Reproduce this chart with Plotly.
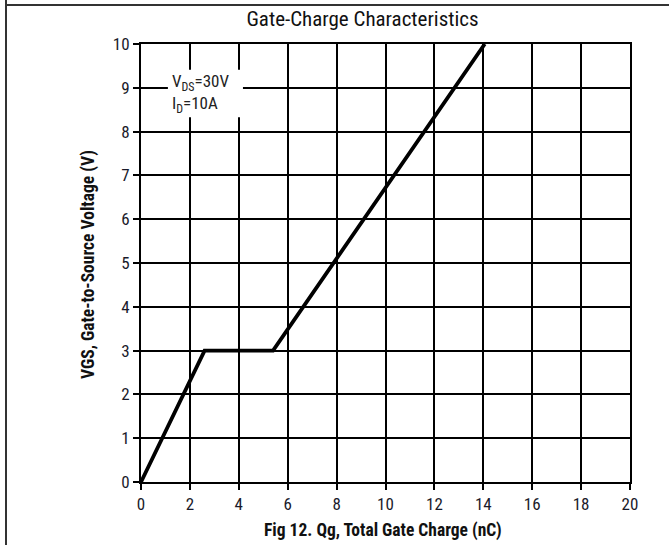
import plotly.graph_objects as go

qg = [0, 2.6, 5.4, 14.06]
vgs = [0, 3, 3, 10]
x_ticks = [0, 2, 4, 6, 8, 10, 12, 14, 16, 18, 20]
y_ticks = [0, 1, 2, 3, 4, 5, 6, 7, 8, 9, 10]

FONT = "Liberation Sans Narrow, Arial Narrow, Roboto Condensed, Liberation Sans, Arial"

fig = go.Figure()
fig.add_trace(go.Scatter(x=qg, y=vgs, mode="lines",
                         line=dict(color="black", width=3.8), showlegend=False))

axis_common = dict(showgrid=True, gridcolor="black", gridwidth=1.5,
                   showline=True, linecolor="black", linewidth=2, mirror=True,
                   ticks="outside", ticklen=6, tickcolor="black", tickwidth=1.5,
                   zeroline=False, automargin=False,
                   tickfont=dict(family=FONT, size=17, color="#1a1a2a"))

PW, PH = 489, 438  # plot area size in px

fig.update_layout(
    width=669, height=545,
    margin=dict(l=141, r=39, t=44, b=63),
    paper_bgcolor="white", plot_bgcolor="white",
    title=dict(text="Gate-Charge Characteristics", x=362.5 / 669,
               xanchor="center", y=1 - 19 / 545, yanchor="middle",
               font=dict(family=FONT, size=21, color="#111")),
    xaxis=dict(range=[0, 20], tickvals=x_ticks, **axis_common),
    yaxis=dict(range=[0, 10], tickvals=y_ticks, **axis_common),
)

# axis titles
fig.add_annotation(xref="paper", yref="paper", x=(383 - 141) / PW, y=(482 - 530) / PH,
                   xanchor="center", yanchor="middle", showarrow=False,
                   text="<b>Fig 12. Qg, Total Gate Charge (nC)</b>",
                   font=dict(family=FONT, size=17.5, color="#111"))
fig.add_annotation(xref="paper", yref="paper", x=(88 - 141) / PW, y=(482 - 265) / PH,
                   xanchor="center", yanchor="middle", showarrow=False, textangle=-90,
                   text="<b>VGS, Gate-to-Source Voltage (V)</b>",
                   font=dict(family=FONT, size=17.5, color="#111"))

# white box behind the condition text
fig.add_shape(type="rect", xref="x", yref="y", x0=1.10, x1=4.17, y0=8.33, y1=9.41,
              fillcolor="white", line=dict(width=0), layer="above")
fig.add_annotation(xref="x", yref="y", x=1.17, y=8.87, xanchor="left", yanchor="middle",
                   align="left", showarrow=False,
                   text="V<sub>DS</sub>=30V<br>I<sub>D</sub>=10A",
                   font=dict(family=FONT, size=17, color="#222"))

# outer frame lines (top and left)
fig.add_shape(type="line", xref="paper", yref="paper",
              x0=(6 - 141) / PW, x1=(669 - 141) / PW + 0.01,
              y0=(482 - 5) / PH, y1=(482 - 5) / PH, line=dict(color="#333", width=2))
fig.add_shape(type="line", xref="paper", yref="paper",
              x0=(6 - 141) / PW, x1=(6 - 141) / PW,
              y0=(482 - 0) / PH + 0.01, y1=(482 - 545) / PH - 0.01,
              line=dict(color="#333", width=2))

fig.write_html("out.html", config={"displayModeBar": False},
               post_script="document.body.style.margin='0';document.body.style.overflow='hidden';")
